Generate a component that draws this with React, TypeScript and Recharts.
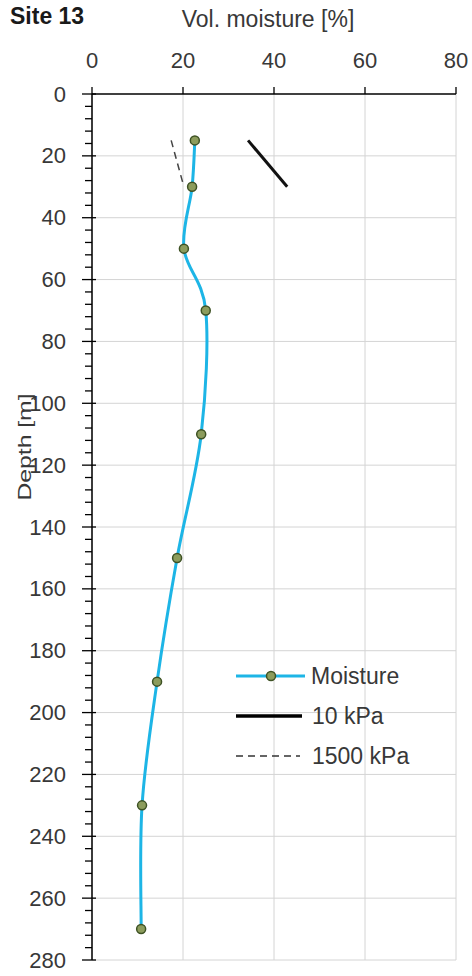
import React from 'react';
import {
  ComposedChart,
  Line,
  XAxis,
  YAxis,
  CartesianGrid,
  ReferenceLine,
  Legend,
  Customized,
} from 'recharts';

// ---- data ----
const depths = [15, 30, 50, 70, 110, 150, 190, 230, 270];
const moisture = [22.6, 22.0, 20.2, 25.0, 24.0, 18.7, 14.3, 11.0, 10.8];
const limitDepths = [15, 30];
const fc10kPa = [34.3, 42.9];
const wp1500kPa = [17.4, 20.2];
const xTicks = [0, 20, 40, 60, 80];
const yMajorTicks = [0, 20, 40, 60, 80, 100, 120, 140, 160, 180, 200, 220, 240, 260, 280];
const yMinorStep = 4;
const yAllTicks = Array.from({ length: 280 / yMinorStep + 1 }, (_, i) => i * yMinorStep);
const seriesNames = ['Moisture', '10 kPa', '1500 kPa'];
const titleText = 'Site 13';
const xTitle = 'Vol. moisture [%]';
const yTitle = 'Depth [m]';

const moistureData = depths.map((d, i) => ({ depth: d, value: moisture[i] }));
const fcData = limitDepths.map((d, i) => ({ depth: d, value: fc10kPa[i] }));
const wpData = limitDepths.map((d, i) => ({ depth: d, value: wp1500kPa[i] }));

const FONT = '"Liberation Sans", Arial, sans-serif';
const TEXT = '#383838';
const CYAN = '#1db5e6';

// Catmull-Rom style smoothing (Excel-like smoothed line)
function smoothCurve(context: any) {
  let pts: number[][] = [];
  return {
    areaStart() {},
    areaEnd() {},
    lineStart() {
      pts = [];
    },
    lineEnd() {
      const n = pts.length;
      if (!n) return;
      context.moveTo(pts[0][0], pts[0][1]);
      for (let i = 0; i < n - 1; i++) {
        const p0 = pts[i === 0 ? 0 : i - 1];
        const p1 = pts[i];
        const p2 = pts[i + 1];
        const p3 = pts[i + 2 < n ? i + 2 : n - 1];
        context.bezierCurveTo(
          p1[0] + (p2[0] - p0[0]) / 6,
          p1[1] + (p2[1] - p0[1]) / 6,
          p2[0] - (p3[0] - p1[0]) / 6,
          p2[1] - (p3[1] - p1[1]) / 6,
          p2[0],
          p2[1]
        );
      }
    },
    point(x: number, y: number) {
      pts.push([+x, +y]);
    },
  };
}

const XTick = (props: any) => {
  const { x, y, payload } = props;
  return (
    <g>
      <line x1={x} x2={x} y1={y - 7} y2={y} stroke="#000" strokeWidth={1.3} />
      <text
        x={x}
        y={y - 34}
        textAnchor="middle"
        dominantBaseline="central"
        fontSize={22}
        fontFamily={FONT}
        fill={TEXT}
      >
        {payload.value}
      </text>
    </g>
  );
};

const YTick = (props: any) => {
  const { x, y, payload } = props;
  const v = payload.value;
  const major = yMajorTicks.includes(v);
  if (!major) {
    return <line x1={x - 7} x2={x} y1={y} y2={y} stroke="#000" strokeWidth={1.3} />;
  }
  return (
    <g>
      <line x1={x - 10} x2={x + 4} y1={y} y2={y} stroke="#000" strokeWidth={1.3} />
      <text
        x={x - 26}
        y={y}
        textAnchor="end"
        dominantBaseline="central"
        fontSize={22}
        fontFamily={FONT}
        fill={TEXT}
      >
        {v}
      </text>
    </g>
  );
};

const Titles = () => (
  <g>
    <text x={10} y={24} fontSize={23} fontWeight="bold" fontFamily={FONT} fill="#1a1a1a">
      {titleText}
    </text>
    <text x={268} y={27} textAnchor="middle" fontSize={23} fontFamily={FONT} fill={TEXT}>
      {xTitle}
    </text>
    <text
      transform="translate(25,447) rotate(-90) scale(1.3,1)"
      textAnchor="middle"
      dominantBaseline="central"
      fontSize={19}
      fontFamily={FONT}
      fill={TEXT}
    >
      {yTitle}
    </text>
  </g>
);

const LegendBox = () => (
  <svg width={230} height={130} style={{ display: 'block', overflow: 'visible' }}>
    <line x1={6} x2={75} y1={26} y2={26} stroke={CYAN} strokeWidth={3} />
    <circle cx={41} cy={26} r={4.5} fill="#8c9c5c" stroke="#3e5224" strokeWidth={1.5} />
    <text x={81} y={26} dominantBaseline="central" fontSize={23} fontFamily={FONT} fill={TEXT}>
      {seriesNames[0]}
    </text>
    <line x1={6} x2={72} y1={66} y2={66} stroke="#000" strokeWidth={3.5} />
    <text x={82} y={66} dominantBaseline="central" fontSize={23} fontFamily={FONT} fill={TEXT}>
      {seriesNames[1]}
    </text>
    <line x1={6} x2={70} y1={106} y2={106} stroke="#333" strokeWidth={1.5} strokeDasharray="7 5" />
    <text x={82} y={106} dominantBaseline="central" fontSize={23} fontFamily={FONT} fill={TEXT}>
      {seriesNames[2]}
    </text>
  </svg>
);

export default function App() {
  return (
    <div style={{ position: 'absolute', left: 0, top: 0, width: 472, height: 976, background: '#fff' }}>
      <ComposedChart
        width={472}
        height={976}
        layout="vertical"
        margin={{ top: 48, right: 16, bottom: 16, left: 0 }}
      >
        <CartesianGrid horizontal={false} stroke="#d4d4d4" strokeWidth={1} />
        {yMajorTicks
          .filter((t) => t !== 0)
          .map((t) => (
            <ReferenceLine key={t} y={t} stroke="#d4d4d4" strokeWidth={1} />
          ))}
        <XAxis
          type="number"
          orientation="top"
          domain={[0, 80]}
          ticks={xTicks}
          interval={0}
          height={46}
          tickSize={0}
          tickMargin={0}
          tickLine={false}
          tick={<XTick />}
          axisLine={{ stroke: '#000', strokeWidth: 1.5 }}
          allowDataOverflow
        />
        <YAxis
          type="number"
          dataKey="depth"
          domain={[0, 280]}
          ticks={yAllTicks}
          interval={0}
          width={92}
          tickSize={0}
          tickMargin={0}
          tickLine={false}
          tick={<YTick />}
          axisLine={{ stroke: '#000', strokeWidth: 1.5 }}
          allowDataOverflow
        />
        <Line
          data={wpData}
          dataKey="value"
          name={seriesNames[2]}
          type="linear"
          stroke="#444"
          strokeWidth={1.5}
          strokeDasharray="7 5"
          dot={false}
          isAnimationActive={false}
        />
        <Line
          data={fcData}
          dataKey="value"
          name={seriesNames[1]}
          type="linear"
          stroke="#111"
          strokeWidth={3}
          dot={false}
          isAnimationActive={false}
        />
        <Line
          data={moistureData}
          dataKey="value"
          name={seriesNames[0]}
          type={smoothCurve as any}
          stroke={CYAN}
          strokeWidth={3}
          dot={{ r: 4.5, fill: '#8c9c5c', stroke: '#3e5224', strokeWidth: 1.5 }}
          isAnimationActive={false}
        />
        <Legend
          layout="vertical"
          align="center"
          verticalAlign="middle"
          content={() => <LegendBox />}
          wrapperStyle={{ left: 230, top: 650, width: 230, height: 130 }}
        />
        <Customized component={Titles} />
      </ComposedChart>
    </div>
  );
}
